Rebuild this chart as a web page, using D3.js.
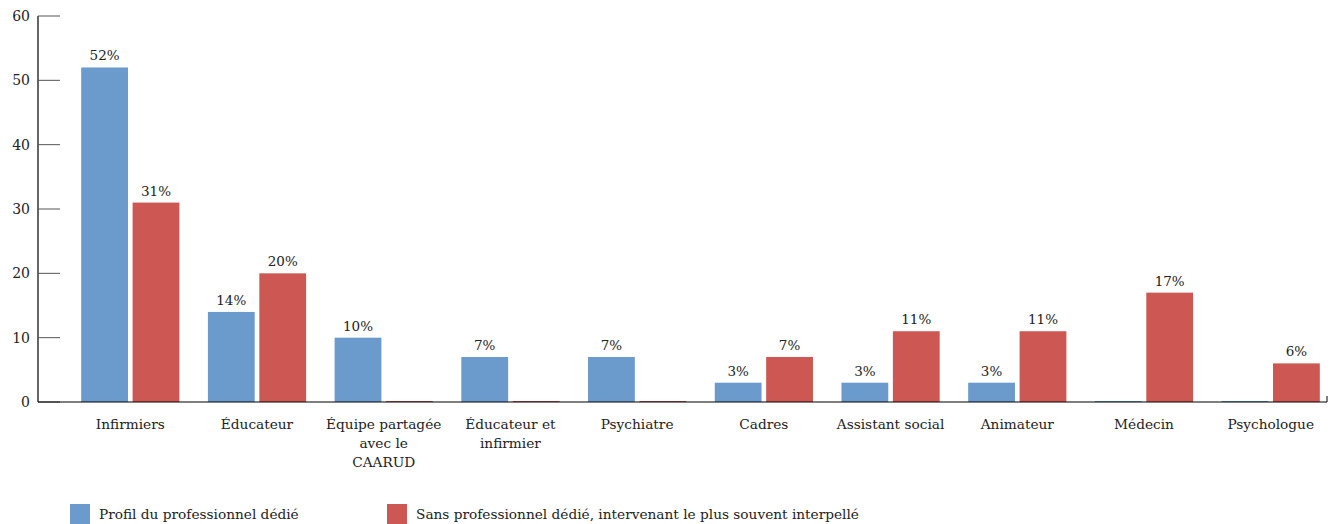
<!DOCTYPE html>
<html>
<head>
<meta charset="utf-8">
<script src="https://cdn.jsdelivr.net/npm/d3@7"></script>
<style>
  body { margin: 0; background: #fff; }
  svg text { font-family: "DejaVu Serif", serif; fill: #222; }
</style>
</head>
<body>
<script>
// categories and the two series (percentages)
var categories = ["Infirmiers", "Éducateur", "Équipe partagée|avec le|CAARUD", "Éducateur et|infirmier",
  "Psychiatre", "Cadres", "Assistant social", "Animateur", "Médecin", "Psychologue"];
var dedie = [52, 14, 10, 7, 7, 3, 3, 3, 0, 0];
var sansDedie = [31, 20, 0, 0, 0, 7, 11, 11, 17, 6];
var seriesNames = ["Profil du professionnel dédié", "Sans professionnel dédié, intervenant le plus souvent interpellé"];
var yTicks = [0, 10, 20, 30, 40, 50, 60];

var width = 1335, height = 524;
var colors = ["#6a9bcc", "#cd5752"];

var svg = d3.select("body").append("svg")
  .attr("width", width)
  .attr("height", height);

var y = d3.scaleLinear().domain([0, 60]).range([402, 16]);

var x = d3.scaleBand()
  .domain(d3.range(categories.length))
  .range([67, 1334])
  .paddingInner(0.225)
  .paddingOuter(0.112);

var xs = d3.scaleBand().domain([0, 1]).range([0, x.bandwidth()]).paddingInner(0.09);

// y axis line + ticks
svg.append("line")
  .attr("x1", 38).attr("x2", 38)
  .attr("y1", y(60)).attr("y2", y(0))
  .attr("stroke", "#000").attr("stroke-width", 1.2);

svg.selectAll(".ytick").data(yTicks).enter().append("line")
  .attr("x1", 38).attr("x2", 60)
  .attr("y1", function (d) { return y(d); })
  .attr("y2", function (d) { return y(d); })
  .attr("stroke", "#555").attr("stroke-width", 1);

svg.selectAll(".ylab").data(yTicks).enter().append("text")
  .attr("x", 30)
  .attr("y", function (d) { return y(d) + 5; })
  .attr("text-anchor", "end")
  .style("font-size", "14px")
  .text(function (d) { return d; });

// bars + value labels
var data = [dedie, sansDedie];
data.forEach(function (vals, s) {
  svg.selectAll(".bar" + s).data(vals).enter().append("rect")
    .attr("x", function (d, i) { return x(i) + xs(s); })
    .attr("width", xs.bandwidth())
    .attr("y", function (d) { return d > 0 ? y(d) : y(0) - 1; })
    .attr("height", function (d) { return d > 0 ? y(0) - y(d) : 1; })
    .attr("fill", colors[s]);

  vals.forEach(function (d, i) {
    if (d <= 0) return;
    svg.append("text")
      .attr("x", x(i) + xs(s) + xs.bandwidth() / 2)
      .attr("y", y(d) - 7)
      .attr("text-anchor", "middle")
      .style("font-size", "13.5px")
      .text(d + "%");
  });
});

// x axis line
svg.append("line")
  .attr("x1", 38).attr("x2", 1327)
  .attr("y1", y(0)).attr("y2", y(0))
  .attr("stroke", "#000").attr("stroke-width", 1.2);
svg.append("line")
  .attr("x1", 1327).attr("x2", 1327)
  .attr("y1", y(0) - 6).attr("y2", y(0))
  .attr("stroke", "#000").attr("stroke-width", 1);

// category labels
categories.forEach(function (c, i) {
  var t = svg.append("text")
    .attr("x", x(i) + x.bandwidth() / 2)
    .attr("y", 429)
    .attr("text-anchor", "middle")
    .style("font-size", "13.7px");
  c.split("|").forEach(function (line, k) {
    t.append("tspan")
      .attr("x", x(i) + x.bandwidth() / 2)
      .attr("dy", k === 0 ? 0 : 19)
      .text(line);
  });
});

// legend
var legX = [70, 387];
seriesNames.forEach(function (n, s) {
  svg.append("rect")
    .attr("x", legX[s]).attr("y", 504)
    .attr("width", 20).attr("height", 20)
    .attr("fill", colors[s]);
  svg.append("text")
    .attr("x", legX[s] + 29).attr("y", 519)
    .style("font-size", "13.7px")
    .text(n);
});
</script>
</body>
</html>
